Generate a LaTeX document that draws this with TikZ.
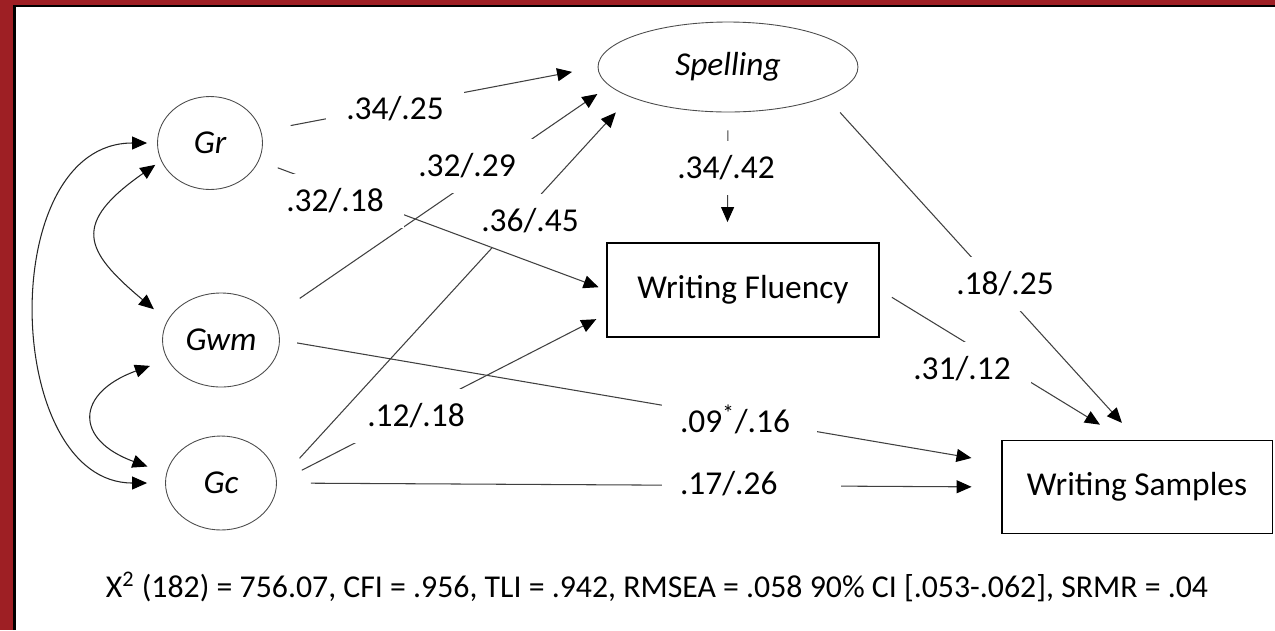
\documentclass[tikz,border=0pt]{standalone}
\usepackage{fontspec}
\setmainfont{Carlito}
\usetikzlibrary{shapes.geometric, arrows.meta}
\definecolor{framered}{RGB}{158,31,36}

\begin{document}
\begin{tikzpicture}[x=0.02cm, y=-0.02cm,
        latent/.style={ellipse, draw=black!70, line width=0.5pt, font=\fontsize{19}{23}\selectfont\itshape},
        measured/.style={rectangle, draw=black, line width=1.1pt, minimum width=5.44cm, minimum height=1.88cm, font=\fontsize{19}{23}\selectfont},
        coef/.style={fill=white, inner xsep=0.4cm, inner ysep=0.3cm, font=\fontsize{19}{23}\selectfont},
        effect/.style={-{Triangle[length=0.3cm, width=0.26cm, color=black]}, draw=black!75, line width=0.6pt},
        covar/.style={{Triangle[length=0.3cm, width=0.26cm, color=black]}-{Triangle[length=0.3cm, width=0.26cm, color=black]}, draw=black!85, line width=0.6pt}]
        \useasboundingbox (0,0) rectangle (1275,630);
        \fill[white] (0,0) rectangle (1275,630);
        \fill[framered] (0,0) rectangle (1275,5);
        \fill[framered] (0,0) rectangle (13,630);
        \draw[line width=1.2pt] (13,6) -- (1275,6);
        \draw[line width=1.6pt] (14.5,6) -- (14.5,630);

        \node[latent, minimum width=2.1cm, minimum height=1.86cm] (gr) at (210,143) {Gr};
        \node[latent, minimum width=2.22cm, minimum height=1.88cm] (gwm) at (221,340) {Gwm};
        \node[latent, minimum width=2.22cm, minimum height=1.88cm] (gc) at (221,483) {Gc};
        \node[latent, minimum width=5.2cm, minimum height=1.8cm] (spell) at (728,67) {Spelling};
        \node[measured] (wf) at (743,290) {Writing Fluency};
        \node[measured, minimum width=5.42cm, minimum height=1.86cm] (ws) at (1137,487) {Writing Samples};

        \draw[effect, shorten <=0.6cm, shorten >=0.52cm] (gr.13) -- (spell.west);
        \draw[effect, shorten <=0.66cm, shorten >=0.29cm] (gwm.24) -- (spell.189);
        \draw[effect, shorten <=0.56cm, shorten >=0.22cm] (gc.east) -- (wf.190);
        \draw[effect, shorten <=0.35cm, shorten >=0.59cm] (gwm.east) -- (ws.170);
        \draw[effect, shorten <=0.68cm, shorten >=0.58cm] (gc.east) -- (ws.west);
        \draw[effect, shorten <=0.36cm, shorten >=0.4cm] (spell.south) -- (wf.108);
        \draw[effect, shorten <=0.42cm, shorten >=0.45cm] (spell.-17) -- (ws.north);
        \draw[effect, shorten <=0.28cm, shorten >=0.57cm] (wf.east) -- (ws.105);
        \draw[covar, shorten <=0.2cm, shorten >=0.36cm] (gr.west) to[out=180, in=180, looseness=1.22] (gc.west);
        \draw[covar, shorten <=0.14cm, shorten >=0.35cm] (gr.200) to[out=215, in=140, looseness=1.75] (gwm.160);
        \draw[covar, shorten <=0.37cm, shorten >=0.4cm] (gwm.200) to[out=200, in=160, looseness=2.2] (gc.170);

        \node[coef] (c_gc_wf) at (416,416) {.12/.18};
        \node[coef] (c_gr_sp) at (395,109) {.34/.25};
        \node[coef] (c_gwm_sp) at (467,166) {.32/.29};
        \node[coef, inner xsep=0.36cm, text width=2.38cm, align=left] (c_gwm_ws) at (739.5,419) {.09\textsuperscript{*}/.16};
        \node[coef, inner xsep=0.36cm, text width=2.86cm, align=left] (c_gc_ws) at (751.5,484) {.17/.26};
        \node[coef] (c_sp_wf) at (726,168) {.34/.42};
        \node[coef] (c_sp_ws) at (1005,284) {.18/.25};
        \node[coef] (c_wf_ws) at (962,369) {.31/.12};
        \draw[effect, shorten <=0.67cm, shorten >=0.42cm] (gc.east) -- (spell.197);
        \node[coef] (c_gc_sp) at (530,221) {.36/.45};
        \draw[effect, shorten <=0.4cm, shorten >=0.16cm] (gr.-20) -- (wf.west);
        \node[coef] (c_gr_wf) at (335,201) {.32/.18};

        \node[font=\fontsize{18.1}{22}\selectfont] (fit) at (657,587) {X\textsuperscript{2} (182) = 756.07, CFI = .956, TLI = .942, RMSEA = .058 90\% CI [.053-.062], SRMR = .04};
    \end{tikzpicture}
\end{document}
